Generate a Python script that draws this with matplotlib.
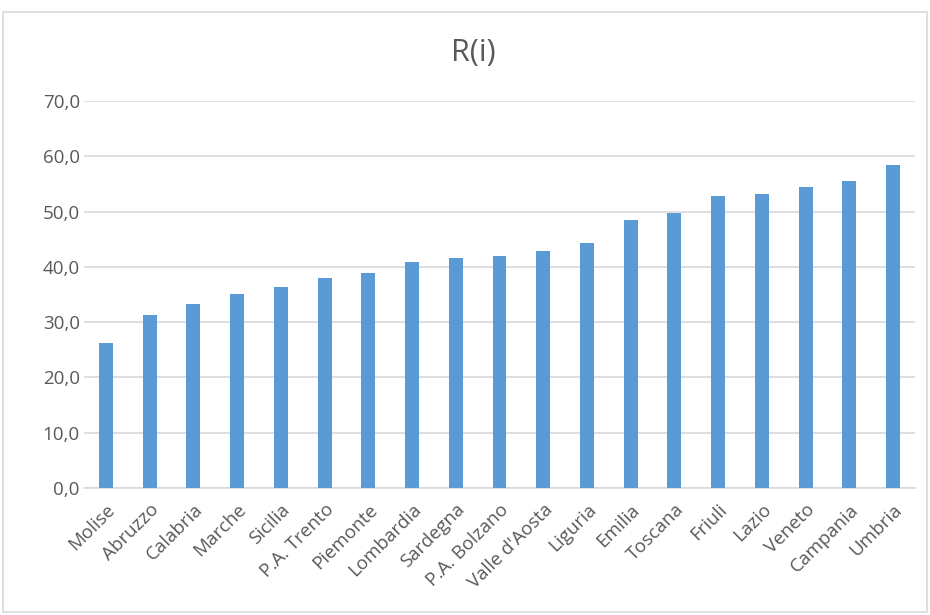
import matplotlib
matplotlib.use("Agg")
import matplotlib.pyplot as plt
from matplotlib.patches import Rectangle
from matplotlib.ticker import FuncFormatter

regions = ["Molise", "Abruzzo", "Calabria", "Marche", "Sicilia", "P.A. Trento",
           "Piemonte", "Lombardia", "Sardegna", "P.A. Bolzano", "Valle d'Aosta",
           "Liguria", "Emilia", "Toscana", "Friuli", "Lazio", "Veneto",
           "Campania", "Umbria"]
values = [26.3, 31.3, 33.2, 35.1, 36.4, 37.9, 38.9, 40.8, 41.6, 41.9, 42.8,
          44.3, 48.4, 49.8, 52.8, 53.2, 54.5, 55.6, 58.4]
y_ticks = [0, 10, 20, 30, 40, 50, 60, 70]

plt.rcParams['font.family'] = ['Open Sans', 'DejaVu Sans']
text_color = "#595959"

fig = plt.figure(figsize=(9.30, 6.15), dpi=100)
ax = fig.add_axes([84 / 930, 1 - 488 / 615, (915 - 84) / 930, (488 - 101) / 615])

x = list(range(len(regions)))
ax.bar(x, values, width=0.32, color="#5B9BD5", zorder=3)

ax.set_xlim(-0.5, len(regions) - 0.5)
ax.set_ylim(0, 70)
ax.set_yticks(y_ticks)
ax.yaxis.set_major_formatter(FuncFormatter(lambda v, p: f"{v:.1f}".replace(".", ",")))
ax.grid(axis="y", color="#D9D9D9", linewidth=1.2, zorder=0)
for side in ("top", "right", "left"):
    ax.spines[side].set_visible(False)
ax.spines["bottom"].set_color("#D9D9D9")
ax.spines["bottom"].set_linewidth(1.2)
ax.tick_params(axis="both", length=0, colors=text_color, labelsize=13.5)
ax.tick_params(axis="y", pad=3)
ax.set_xticks(x)
ax.set_xticklabels(regions, rotation=45, ha="right", rotation_mode="anchor")
ax.tick_params(axis="x", pad=9)

fig.text(473 / 930, 1 - 53 / 615, "R(i)", ha="center", va="center", fontsize=22, color=text_color)

fig.patches.append(Rectangle((3 / 930, 3 / 615), 924 / 930, 600 / 615,
                             transform=fig.transFigure, fill=False,
                             edgecolor="#D9D9D9", linewidth=1.2))

fig.savefig("out.png", dpi=100)
